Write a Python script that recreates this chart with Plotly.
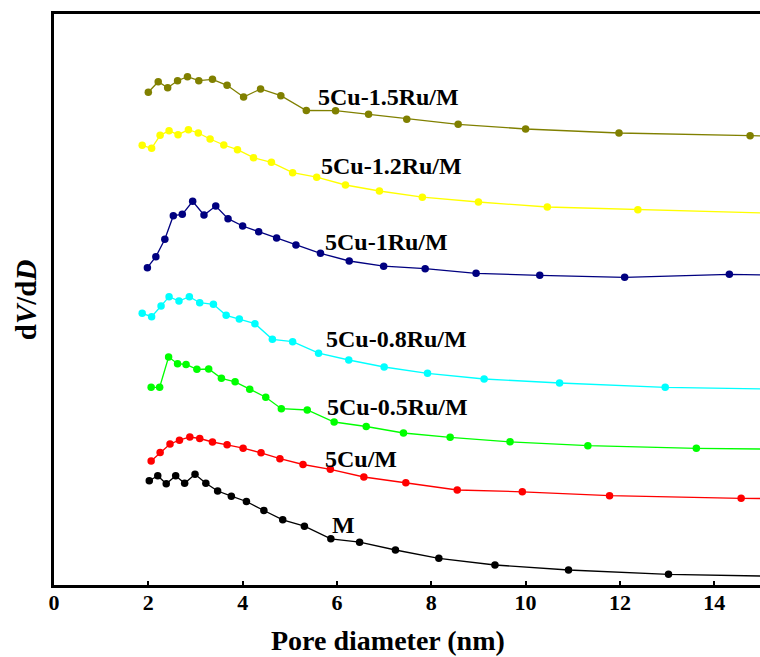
import plotly.graph_objects as go

# Pore diameter (nm) and dV/dD (arbitrary, offset units)
x_15 = [2.00, 2.21, 2.41, 2.62, 2.83, 3.07, 3.36, 3.67, 4.02, 4.38, 4.81, 5.35, 5.97, 6.67, 7.48, 8.57, 10.0, 11.98, 14.76, 16.5]
y_15 = [491.7, 502.3, 496.3, 503.3, 507.3, 503.3, 504.7, 498.7, 487, 495, 488.3, 473.5, 473.3, 469.7, 464.8, 459.7, 455, 451, 448.3, 447.0]

x_12 = [1.87, 2.07, 2.25, 2.44, 2.63, 2.85, 3.06, 3.31, 3.60, 3.89, 4.23, 4.61, 5.06, 5.57, 6.18, 6.90, 7.81, 9.00, 10.46, 12.38, 16.0]
y_12 = [438.7, 435.7, 448.7, 453.3, 449.3, 454.3, 451, 445, 439, 434.3, 426.3, 421.7, 411.3, 406.8, 399, 393, 386.8, 382, 377, 374.3, 369.7]

x_10 = [1.98, 2.16, 2.35, 2.53, 2.72, 2.94, 3.18, 3.43, 3.69, 4.00, 4.34, 4.72, 5.13, 5.65, 6.26, 6.99, 7.87, 8.95, 10.30, 12.10, 14.32, 16.0]
y_10 = [316.3, 327.3, 344.7, 368.3, 369.7, 382.7, 369, 378, 365.3, 358, 352.3, 346, 339, 330.7, 323, 317.8, 315.3, 310.7, 308.7, 306.7, 309.7, 308.0]

x_08 = [1.87, 2.07, 2.27, 2.44, 2.65, 2.87, 3.09, 3.38, 3.65, 3.93, 4.26, 4.63, 5.06, 5.61, 6.25, 7.00, 7.92, 9.12, 10.72, 12.96, 16.0]
y_08 = [270.7, 267.3, 278, 287.3, 283, 287.3, 281.3, 279.7, 268.7, 265, 260.3, 244.7, 242.3, 230.8, 224, 217, 210.7, 205, 201, 196.7, 194.2]

x_05 = [2.06, 2.24, 2.43, 2.62, 2.80, 3.03, 3.28, 3.55, 3.84, 4.15, 4.49, 4.82, 5.37, 5.94, 6.62, 7.41, 8.40, 9.67, 11.32, 13.62, 16.0]
y_05 = [196.7, 196.7, 227, 220.3, 219.5, 214.7, 215, 205.7, 202.2, 194.8, 186.8, 175.3, 174, 162, 157.5, 151, 146.7, 142.2, 138.3, 135.7, 134.5]

x_cu = [2.06, 2.25, 2.46, 2.66, 2.88, 3.09, 3.36, 3.67, 4.01, 4.39, 4.79, 5.28, 5.86, 6.57, 7.46, 8.55, 9.93, 11.78, 14.57, 16.0]
y_cu = [123, 131.5, 140, 143.8, 147, 145.5, 142, 139.2, 135.8, 131.2, 125.3, 119.5, 114.7, 107, 101.3, 94, 92.2, 88.3, 85.7, 85.0]

x_m = [2.02, 2.20, 2.38, 2.58, 2.77, 2.99, 3.22, 3.47, 3.76, 4.08, 4.45, 4.85, 5.31, 5.87, 6.48, 7.24, 8.16, 9.35, 10.91, 13.03, 16.0]
y_m = [103.2, 108.2, 100.2, 108.2, 100.7, 109.7, 100.7, 93, 87.8, 82.5, 73.5, 64.2, 57.8, 45.2, 41.8, 34, 25.7, 19, 14, 9.7, 7.1]

names = ["5Cu-1.5Ru/M", "5Cu-1.2Ru/M", "5Cu-1Ru/M", "5Cu-0.8Ru/M", "5Cu-0.5Ru/M", "5Cu/M", "M"]
xs = [x_15, x_12, x_10, x_08, x_05, x_cu, x_m]
ys = [y_15, y_12, y_10, y_08, y_05, y_cu, y_m]
colors = ["#808000", "#FFFF00", "#000080", "#00FFFF", "#00FF00", "#FF0000", "#000000"]

# label anchor positions (left edge) in data units
label_x = [5.55, 5.61, 5.71, 5.72, 5.74, 5.71, 5.86]
label_y = [487, 418, 342, 245, 177, 125, 59]

xticks = [0, 2, 4, 6, 8, 10, 12, 14]

FONT = "Liberation Serif"

fig = go.Figure()
for n, x, y, c in zip(names, xs, ys, colors):
    fig.add_trace(go.Scatter(
        x=x, y=y, name=n, mode="lines+markers",
        line=dict(color=c, width=1.3),
        marker=dict(color=c, size=7.5),
        cliponaxis=True, showlegend=False,
    ))

for n, lx, ly in zip(names, label_x, label_y):
    fig.add_annotation(x=lx, y=ly, text="<b>%s</b>" % n, showarrow=False,
                       xanchor="left", yanchor="middle",
                       font=dict(family=FONT, size=24, color="black"))

# axis titles
fig.add_annotation(xref="paper", yref="paper", x=0.473, y=-0.097,
                   text="<b>Pore diameter (nm)</b>", showarrow=False,
                   xanchor="center", yanchor="middle",
                   font=dict(family=FONT, size=28, color="black"))
fig.add_annotation(xref="paper", yref="paper", x=-0.04, y=0.5,
                   text="<b>d<i>V</i>/d<i>D</i></b>", showarrow=False, textangle=-90,
                   xanchor="center", yanchor="middle",
                   font=dict(family=FONT, size=29, color="black"))

fig.update_layout(
    width=760, height=657,
    margin=dict(l=54, r=0, t=14, b=72),
    paper_bgcolor="white", plot_bgcolor="white",
    font=dict(family=FONT, color="black"),
)
fig.update_xaxes(
    range=[0, 14.97], tickvals=xticks, ticktext=["<b>%d</b>" % t for t in xticks],
    ticks="inside", ticklen=4, tickwidth=2, tickcolor="black",
    tickfont=dict(family=FONT, size=22, color="black"),
    ticklabelstandoff=-4,
    showline=True, linewidth=3, linecolor="black", mirror=True,
    showgrid=False, zeroline=False,
)
fig.update_yaxes(
    range=[-1, 570], showticklabels=False, ticks="",
    showline=True, linewidth=3, linecolor="black", mirror=False,
    showgrid=False, zeroline=False,
)

fig.write_html("out.html")
